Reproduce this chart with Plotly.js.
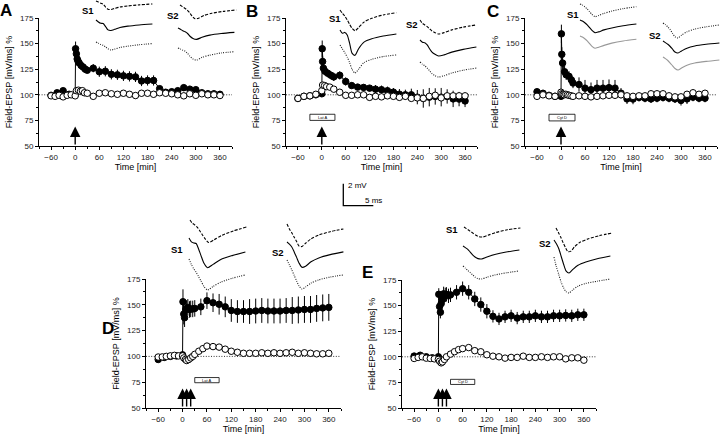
<!DOCTYPE html>
<html>
<head>
<meta charset="utf-8">
<script src="https://cdn.plot.ly/plotly-3.0.1.min.js"></script>
<style>html,body{margin:0;padding:0;background:#fff}#chart{width:720px;height:437px}</style>
</head>
<body>
<div id="chart"></div>
<script>
'use strict';

// ---- time course data (Field-EPSP, % of baseline) ----
// filled = S1 (tetanized), open = S2 (control)
const tA_f = [-60,-45,-30,-15,0, 1,3,5,7,10,15,20,25,30, 45,60,75,90,105,120,135,150,165,180,195,210,225,240,255,270,285,300,315,330,345,360];
const vA_f = [99.5,102,104,100.5,100, 145,140,135,133,131,128.5,127,125,124, 126,122.5,123,120,119.5,118.5,118,117.5,113.5,114,114,106,102.5,103,104,107,105.5,105,102,101,101,100.5];
const eA_f = [2,2,2,2,2, 7,5,4,3,3,3,3,3,3, 4,5,5,5,5,5,5,5,5,5,5,3,3,3,3,3,3,3,3,3,3,3];
const tA_o = [-60,-50,-40,-30,-20,-10,0, 3,8,13,18,23,30, 45,60,75,90,105,120,135,150,165,180,195,210,225,240,255,270,285,300,315,330,345,360];
const vA_o = [99,98.5,99.5,98,99.5,100,99, 104,104.5,103.5,104,102,101.5, 98.5,101.5,102,101,100.5,101.5,100.5,99.3,101.5,101.5,100.5,102,101.5,101,100,99,101,99.5,101,100,100,99.3];
const eA_o = [2,2,2,2,2,2,2, 3,3,3,3,3,3, 3,3,3,3,3,3,3,3,3,3,3,3,3,3,3,3,3,3,3,3,3,3];

const tB_f = [-60,-45,-30,-15,0, 1,2,4,8,15,23,30, 45,60,75,90,105,120,135,150,165,180,195,210,225,240,255,270,285,300,315,330,345,360];
const vB_f = [96.4,98.5,99,100,101, 145,132.5,126,123,121,119,117.5, 119,113,109,107.5,107.2,106.5,105.5,105,104,102.6,100.6,100,100,97.7,96.4,97.7,98.4,97.7,98.4,96,95.8,94];
const eB_f = [2,2,2,2,2, 8,5,4,4,4,4,4, 4,4,3,3,3,3,4,4,4,4,5,5,6,7,9,9,8,9,7,8,7,6];
const tB_o = [-60,-45,-30,-15,0, 2,7,12,20,30, 45,60,75,90,105,120,135,150,165,180,195,210,225,240,255,270,285,300,315,330,345,360];
const vB_o = [96.5,98.5,99,100.5,104, 109.5,109,108,107.5,105.5, 102.5,99.5,99.5,100,100,97.5,98.5,98,99,98.5,97.5,98.5,96.5,97,96.5,98.5,99.5,97,99,99,99,99];
const eB_o = [2,2,2,2,2, 3,3,3,3,3, 3,3,3,3,3,3,3,3,3,3,3,3,3,3,3,3,3,3,3,3,3,3];

const tC_f = [-60,-45,-30,-15,0, 1,2,4,9,13,20,26,30, 45,60,75,90,105,120,135,150,165,180,195,210,225,240,255,270,285,300,315,330,345,360];
const vC_f = [103,101.5,99.5,98.5,98.5, 159.5,139.5,131,122.5,119.5,118,114.5,111.5, 110,106.5,105,106.5,106.5,107,106.5,101.6,96,95.8,97.4,96.7,96,96.7,97.4,96.7,96,94.5,96,97.7,96.7,96.7];
const eC_f = [2,2,2,2,2, 9,7,6,6,5,5,5,5, 7,8,7,8,8,8,8,5,5,5,4,4,4,4,4,4,4,5,5,4,4,4];
const tC_o = [-60,-45,-30,-15,0, 2,5,8,12,16,20,25,30, 45,60,75,90,105,120,135,150,165,180,195,210,225,240,255,270,285,300,315,330,345,360];
const vC_o = [98.5,100,99,98.5,102.5, 101,100.5,100,100.5,100,99.5,99,98.5, 99,98.5,98,98.5,99,99.5,99.5,100,99,98.5,99,99,101,101,101,99,98,98,100.5,102,100.5,101.5];
const eC_o = [2,2,2,2,2, 2,2,2,2,2,2,2,2, 2,2,2,2,2,2,2,2,2,2,2,2,2,2,2,2,2,2,2,2,2,2];

const tD_f = [-60,-45,-30,-15,0, 1,3,5,8,10,13,17,20,25,30, 45,60,75,90,105,120,135,150,165,180,195,210,225,240,255,270,285,300,315,330,345,360];
const vD_f = [97,99,100,100.5,101.5, 153,141,137.5,145.5,146.5,147.5,145.5,146,146,146.5, 148,154,152,150.5,148,144.5,143.5,143.5,143.5,144,144.5,144,144,144,144.5,144.5,145,145.5,145.5,146.5,147,147.5];
const eD_f = [2,2,2,2,2, 12,10,9,8,8,8,8,8,8,8, 8,8,9,10,10,11,11,11,12,12,12,12,12,12,12,13,13,13,13,13,13,13];
const tD_o = [-60,-50,-40,-30,-20,-10,0, 3,7,10,15,20,25,30,40,50, 60,75,90,105,120,135,150,165,180,195,210,225,240,255,270,285,300,315,330,345,360];
const vD_o = [99.4,99.5,100,100.5,101,100.5,100.5, 98.5,97,96,97,98.5,100,102,105,107.5, 110,109.5,109,107,105,104,103,103,103,103.5,103,103.5,103,103.5,104,103,103.5,103,102.5,102.5,103];
const eD_o = [2,2,2,2,2,2,2, 3,3,3,3,3,3,3,3,3, 3,3,3,3,3,3,3,3,3,3,3,3,3,3,3,3,3,3,3,3,3];

const tE_f = [-60,-45,-30,-15,0, 1,3,5,7,10,13,17,20,25,30, 45,60,75,90,105,120,135,150,165,180,195,210,225,240,255,270,285,300,315,330,345,360];
const vE_f = [100.7,101.5,100,99,100, 161,149,143.5,152,156,161.5,160.5,161,159.5,160.5, 163,166.5,163,156.5,151,144.5,139.5,137,139,140,137.8,139,139,140,139,139,140,140,140.4,140,141,141];
const eE_f = [2,2,2,2,2, 6,6,6,7,7,7,7,7,7,7, 7,7,7,7,7,7,6,6,6,6,6,6,6,6,6,6,6,6,6,6,6,6];
const tE_o = [-60,-50,-40,-30,-20,-10,0, 3,7,10,15,20,30,40,50, 60,75,90,105,120,135,150,165,180,195,210,225,240,255,270,285,300,315,330,345,360];
const vE_o = [98.4,99.4,100,98.7,98.4,98,97.4, 95.7,94.1,95,97.4,100,102.6,105,107, 108,109,106,104.9,102,100.6,100,98.7,99.4,99.4,100.6,99.4,99.4,100,99.4,100,100,98,99,99,96.7];
const eE_o = [2,2,2,2,2,2,2, 2,2,2,2,2,2,2,2, 2,2,2,2,2,2,2,2,2,2,2,2,2,2,2,2,2,2,2,2,2];

// tetanus times (min) and drug application windows (min)
const tetA = [0], tetB = [0], tetC = [0], tetD = [0, 10, 20], tetE = [0, 10, 20];
const drugB = [-30, 33], drugC = [-30, 35], drugD = [30, 90], drugE = [30, 90];

// ---- sample fEPSP traces (ms, mV from trace start) ----
const wfT = [0,0.4,0.8,1.2,1.6,2.0,2.5,3.1,4.0,5.3,7.2,9.4];
const wA1a = [0,-0.1,-0.2,-0.3,-0.55,-0.75,-0.77,-0.68,-0.55,-0.45,-0.35,-0.27];
const wA1b = [0,-0.18,-0.3,-0.32,-0.6,-0.9,-0.95,-0.85,-0.68,-0.56,-0.45,-0.36];
const wA1c = [0,-0.12,-0.22,-0.3,-0.45,-0.62,-0.73,-0.65,-0.5,-0.38,-0.25,-0.14];
const wA2a = [0,-0.15,-0.3,-0.45,-0.7,-1.0,-1.25,-1.2,-0.95,-0.75,-0.58,-0.45];
const wA2b = [0,-0.12,-0.25,-0.35,-0.5,-0.75,-0.95,-1.03,-0.85,-0.65,-0.5,-0.4];
const wA2c = [0,-0.1,-0.2,-0.3,-0.5,-0.75,-1.0,-1.09,-0.85,-0.65,-0.45,-0.34];
const wB1a = [0,-0.3,-0.55,-0.9,-1.3,-1.65,-1.88,-1.6,-1.1,-0.75,-0.45,-0.25];
const wB1b = [0,-0.3,-0.22,-0.45,-1.2,-2.1,-2.3,-1.7,-1.1,-0.8,-0.55,-0.36];
const wB1c = [0,-0.35,-0.7,-1.1,-1.6,-2.2,-2.55,-2.2,-1.6,-1.3,-1.05,-0.9];
const wB2a = [0,-0.3,-0.45,-0.6,-0.8,-1.0,-1.15,-1.27,-1.15,-0.9,-0.65,-0.45];
const wB2b = [0,-0.2,-0.25,-0.45,-0.8,-1.1,-1.3,-1.45,-1.35,-1.1,-0.85,-0.64];
const wB2c = [0,-0.2,-0.35,-0.55,-0.8,-1.05,-1.25,-1.36,-1.25,-1.0,-0.75,-0.55];
const wC1a = [0,-0.1,-0.25,-0.45,-0.7,-0.95,-1.15,-1.05,-0.85,-0.65,-0.42,-0.25];
const wC1b = [0,-0.1,-0.25,-0.45,-0.7,-0.95,-1.15,-1.08,-0.9,-0.72,-0.52,-0.36];
const wC1c = [0,-0.1,-0.25,-0.45,-0.7,-0.95,-1.12,-1.02,-0.85,-0.65,-0.45,-0.3];
const wC2a = [0,-0.15,-0.35,-0.6,-0.95,-1.25,-1.36,-1.1,-0.8,-0.55,-0.35,-0.18];
const wC2b = [0,-0.15,-0.3,-0.5,-0.75,-1.0,-1.09,-0.9,-0.65,-0.45,-0.3,-0.18];
const wC2c = [0,-0.15,-0.32,-0.55,-0.8,-1.05,-1.18,-1.0,-0.75,-0.55,-0.4,-0.27];
const wD1a = [0,-0.3,-0.45,-0.65,-0.95,-1.3,-1.7,-2.05,-1.8,-1.4,-1.0,-0.64];
const wD1b = [0,-0.35,-0.45,-0.5,-1.0,-1.6,-2.3,-2.7,-2.4,-1.95,-1.6,-1.27];
const wD1c = [0,-0.5,-0.9,-1.2,-1.6,-2.0,-2.5,-2.82,-2.5,-2.1,-1.75,-1.45];
const wD2a = [0,-0.45,-0.8,-1.2,-1.6,-2.0,-2.05,-1.75,-1.35,-1.0,-0.7,-0.45];
const wD2b = [0,-0.2,-0.45,-0.9,-1.4,-1.9,-2.3,-2.2,-1.8,-1.45,-1.15,-0.9];
const wD2c = [0,-0.45,-0.9,-1.4,-1.9,-2.35,-2.64,-2.45,-2.1,-1.8,-1.55,-1.36];
const wE1a = [0,-0.15,-0.3,-0.45,-0.6,-0.75,-0.88,-0.91,-0.75,-0.5,-0.25,-0.09];
const wE1b = [0,-0.15,-0.3,-0.55,-0.8,-1.0,-1.15,-1.18,-1.0,-0.78,-0.55,-0.36];
const wE1c = [0,-0.2,-0.4,-0.6,-0.8,-1.0,-1.15,-1.18,-1.02,-0.82,-0.62,-0.45];
const wE2a = [0,-0.4,-0.85,-1.35,-1.8,-2.15,-2.1,-1.7,-1.3,-1.0,-0.7,-0.45];
const wE2b = [0,-0.35,-0.8,-1.5,-2.2,-2.8,-3.0,-2.7,-2.3,-2.0,-1.7,-1.45];
const wE2c = [0,-0.9,-1.6,-2.3,-2.8,-3.15,-3.27,-3.0,-2.65,-2.4,-2.2,-2.0];

// ---- page geometry ----
const W = 720, H = 437;
const PXMS = 6, PXMV = 11;     // scale bar: 5 ms = 30 px, 2 mV = 22 px
const FONT = '"Liberation Sans", Arial, Helvetica, sans-serif';

const axName = (k, a) => a + 'axis' + (k === 1 ? '' : k);
const axId = (k, a) => a + (k === 1 ? '' : k);
const px = (x) => x / W, py = (y) => 1 - y / H;

const layout = {
    width: W, height: H, margin: { l: 0, r: 0, t: 0, b: 0 },
    paper_bgcolor: '#fff', plot_bgcolor: 'rgba(0,0,0,0)', showlegend: false,
    font: { family: FONT, color: '#000', size: 8 },
    shapes: [], annotations: []
};
const data = [];
let k = 0;

const panels = [
    { letter: 'A', box: [39, 232, 18, 146], lp: [6, 10], f: [tA_f, vA_f, eA_f], o: [tA_o, vA_o, eA_o], tet: tetA, drug: null },
    { letter: 'B', box: [286, 477, 18, 146], lp: [252, 11], f: [tB_f, vB_f, eB_f], o: [tB_o, vB_o, eB_o], tet: tetB, drug: { t: drugB, y: [75, 81], text: 'Lat A' } },
    { letter: 'C', box: [525, 717, 18, 146], lp: [493, 11], f: [tC_f, vC_f, eC_f], o: [tC_o, vC_o, eC_o], tet: tetC, drug: { t: drugC, y: [74.5, 81], text: 'Cyt D' } },
    { letter: 'D', box: [146, 341, 279, 408], lp: [108, 328], f: [tD_f, vD_f, eD_f], o: [tD_o, vD_o, eD_o], tet: tetD, drug: { t: drugD, y: [74.5, 79.5], text: 'Lat A' } },
    { letter: 'E', box: [402, 596, 280, 408], lp: [367.5, 272.5], f: [tE_f, vE_f, eE_f], o: [tE_o, vE_o, eE_o], tet: tetE, drug: { t: drugE, y: [73, 78], text: 'Cyt D' } }
];

panels.forEach(p => {
    k++;
    const xa = axId(k, 'x'), ya = axId(k, 'y');
    const [x0, x1, y0, y1] = p.box;
    layout[axName(k, 'x')] = {
        domain: [px(x0), px(x1)], anchor: ya, range: [-90, 390], tick0: 0, dtick: 60,
        ticks: 'outside', ticklen: 3, tickwidth: 1, tickcolor: '#000',
        minor: { dtick: 30, ticks: 'outside', ticklen: 2, tickcolor: '#000', showgrid: false },
        showline: true, linecolor: '#000', linewidth: 1, showgrid: false, zeroline: false,
        tickfont: { size: 8, color: '#222' }, fixedrange: true,
        title: { text: 'Time [min]', font: { size: 9 }, standoff: 3 }
    };
    layout[axName(k, 'y')] = {
        domain: [py(y1), py(y0)], anchor: xa, range: [50, 175], tick0: 50, dtick: 25,
        ticks: 'outside', ticklen: 3, tickwidth: 1, tickcolor: '#000',
        minor: { dtick: 12.5, ticks: 'outside', ticklen: 2, tickcolor: '#000', showgrid: false },
        showline: true, linecolor: '#000', linewidth: 1, showgrid: false, zeroline: false,
        tickfont: { size: 8, color: '#222' }, fixedrange: true,
        title: { text: 'Field-EPSP [mV/ms] %', font: { size: 9 }, standoff: 5 }
    };

    // 100 % baseline
    layout.shapes.push({ type: 'line', xref: xa, yref: ya, x0: -90, x1: 390, y0: 100, y1: 100,
        layer: 'below', line: { color: '#333', width: 1, dash: '1px,1.6px' } });

    // tetanus arrows
    p.tet.forEach(t => layout.annotations.push({
        xref: xa, yref: ya, axref: xa, ayref: ya, x: t, y: 69, ax: t, ay: 50, text: '',
        showarrow: true, arrowhead: 2, arrowsize: 1.5, arrowwidth: 1.4, arrowcolor: '#000', standoff: 0
    }));

    // drug bar
    if (p.drug) {
        layout.shapes.push({ type: 'rect', xref: xa, yref: ya, x0: p.drug.t[0], x1: p.drug.t[1],
            y0: p.drug.y[0], y1: p.drug.y[1], line: { color: '#000', width: 0.8 }, fillcolor: '#fff' });
        layout.annotations.push({ xref: xa, yref: ya, x: (p.drug.t[0] + p.drug.t[1]) / 2,
            y: (p.drug.y[0] + p.drug.y[1]) / 2, text: p.drug.text, showarrow: false, font: { size: 4, color: '#000' } });
    }

    // series
    const series = (s, fill) => ({
        x: s[0], y: s[1], xaxis: xa, yaxis: ya, type: 'scatter', mode: 'lines+markers',
        line: { color: '#000', width: 1 },
        marker: { size: 6.5, color: fill, line: { color: '#000', width: 1 } },
        error_y: { type: 'data', array: s[2], visible: true, color: '#000', thickness: 1, width: 0 },
        hoverinfo: 'skip', cliponaxis: false
    });
    data.push(series(p.f, '#000'));
    data.push(series(p.o, '#fff'));

    layout.annotations.push({ xref: 'paper', yref: 'paper', x: px(p.lp[0]), y: py(p.lp[1]),
        xanchor: 'center', yanchor: 'middle', text: '<b>' + p.letter + '</b>', showarrow: false,
        font: { size: 17 } });
});

// axes in ms / mV placed by pixel origin
function unitAxes(ox, oy, xr, yr) {
    k++;
    let xl = ox + xr[0] * PXMS, xh = ox + xr[1] * PXMS;
    if (xh > W) { xr[1] = (W - ox) / PXMS; xh = W; }
    let yt = oy - yr[1] * PXMV, yb = oy - yr[0] * PXMV;
    if (yt < 0) { yr[1] = oy / PXMV; yt = 0; }
    layout[axName(k, 'x')] = { domain: [px(xl), px(xh)], range: xr, visible: false, fixedrange: true, anchor: axId(k, 'y') };
    layout[axName(k, 'y')] = { domain: [py(yb), py(yt)], range: yr, visible: false, fixedrange: true, anchor: axId(k, 'x') };
    return [axId(k, 'x'), axId(k, 'y')];
}

// scale bar
const [sbx, sby] = unitAxes(343.3, 205.7, [-0.5, 5.5], [-0.3, 2.4]);
data.push({ x: [0, 0, 5], y: [2, 0, 0], xaxis: sbx, yaxis: sby, mode: 'lines',
    line: { color: '#000', width: 1.3 }, hoverinfo: 'skip' });
layout.annotations.push({ xref: sbx, yref: sby, x: 0.5, y: 1.85, text: '2 mV', xanchor: 'left', showarrow: false, font: { size: 8 } });
layout.annotations.push({ xref: sbx, yref: sby, x: 3.2, y: 0.45, text: '5 ms', xanchor: 'left', showarrow: false, font: { size: 8 } });

// inset traces: [x, y of trace start, values, style]
const STY = {
    dash: { color: '#000', dash: '3px,1.5px' },
    solid: { color: '#000', dash: 'solid' },
    dot: { color: '#222', dash: '1px,1.3px' },
    grey: { color: '#999', dash: 'solid' }
};
const insets = [
    [96, 1, wA1a, 'dash'], [96, 20, wA1b, 'solid'], [96, 42, wA1c, 'dot'],
    [180, 5, wA2a, 'dash'], [178, 28, wA2b, 'solid'], [178, 48, wA2c, 'dot'],
    [340, 10, wB1a, 'dash'], [340, 30, wB1b, 'solid'], [340, 45, wB1c, 'dot'],
    [420, 20, wB2a, 'dash'], [420, 40, wB2b, 'solid'], [420, 62, wB2c, 'dot'],
    [580, 4, wC1a, 'dot'], [580, 20, wC1b, 'solid'], [580, 36, wC1c, 'grey'],
    [663, 23, wC2a, 'dot'], [663, 41, wC2b, 'solid'], [663, 57, wC2c, 'grey'],
    [190, 220, wD1a, 'dash'], [189, 238, wD1b, 'solid'], [189, 259, wD1c, 'dot'],
    [287, 224, wD2a, 'dash'], [287, 242, wD2b, 'solid'], [287, 260, wD2c, 'dot'],
    [464, 227, wE1a, 'dash'], [463, 246, wE1b, 'solid'], [463, 266, wE1c, 'dot'],
    [556, 228, wE2a, 'dash'], [554, 240, wE2b, 'solid'], [554, 257, wE2c, 'dot']
];
insets.forEach(([ox, oy, v, s]) => {
    const [xa, ya] = unitAxes(ox, oy, [-0.3, 9.7], [-3.8, 0.6]);
    data.push({ x: wfT, y: v, xaxis: xa, yaxis: ya, mode: 'lines', hoverinfo: 'skip',
        line: { color: STY[s].color, dash: STY[s].dash, width: 1.1, shape: 'spline', smoothing: 0.7 } });
});

// S1 / S2 labels
[[88, 10, 'S1'], [173, 16, 'S2'], [335, 19, 'S1'], [412, 24.5, 'S2'], [573, 14, 'S1'], [655, 35.5, 'S2'],
 [176.5, 249.5, 'S1'], [278, 252.5, 'S2'], [451.5, 229.5, 'S1'], [544.5, 243, 'S2']].forEach(([x, y, t]) =>
    layout.annotations.push({ xref: 'paper', yref: 'paper', x: px(x), y: py(y), xanchor: 'center', yanchor: 'middle',
        text: '<b>' + t + '</b>', showarrow: false, font: { size: 9.5 } }));

Plotly.newPlot('chart', data, layout, { staticPlot: true, displayModeBar: false });
</script>
</body>
</html>
